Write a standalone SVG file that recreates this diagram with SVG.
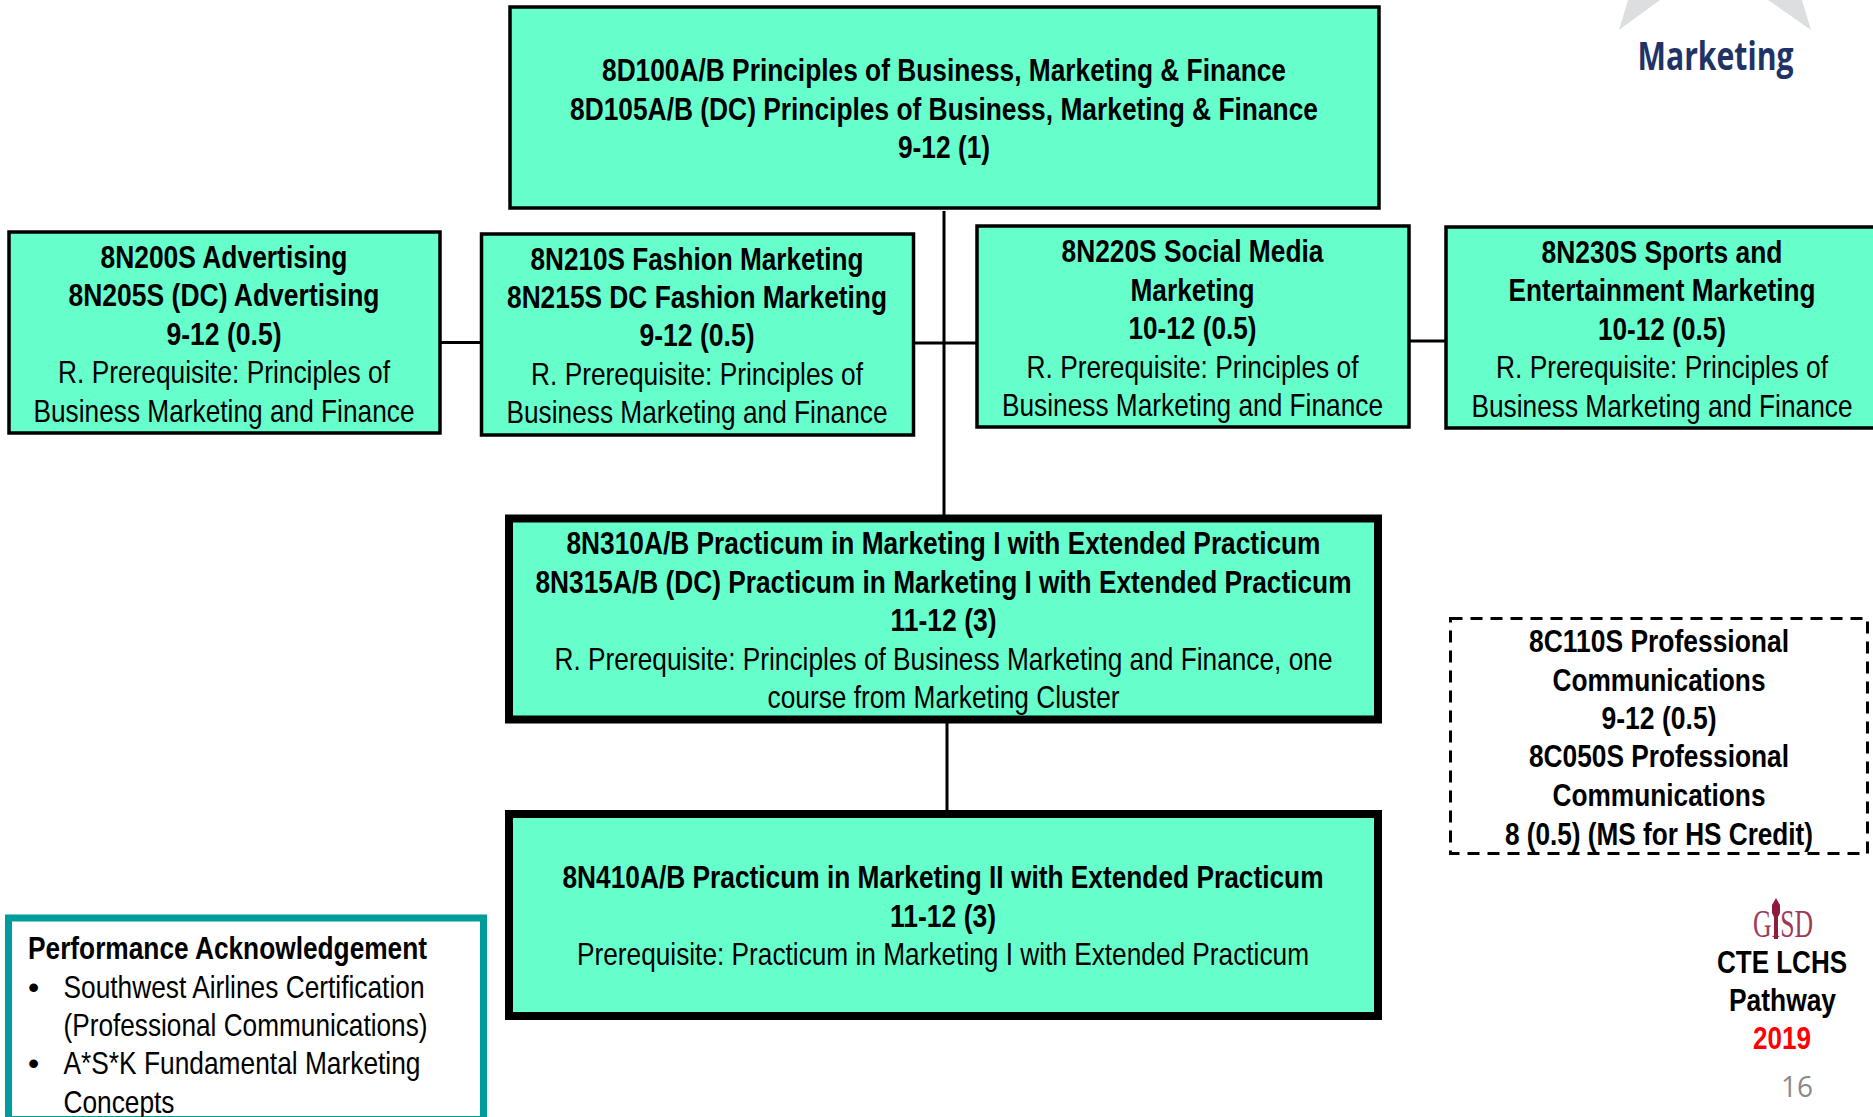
<svg xmlns="http://www.w3.org/2000/svg" width="1873" height="1117" viewBox="0 0 1873 1117">
<style>
text{font-family:"Liberation Sans",Arial,sans-serif;font-size:32px;fill:#000;text-anchor:middle}
.b{font-weight:700}
.l{text-anchor:start}
.n{fill:#66ffcc;stroke:#000;stroke-width:3.5}
.t{fill:#66ffcc;stroke:#000;stroke-width:8}
.c{stroke:#000;stroke-width:3;fill:none}
</style>
<rect width="1873" height="1117" fill="#fff"/>
<g id="connectors">
<path class="c" d="M944 211V515"/>
<path class="c" d="M441 342.500H480"/>
<path class="c" d="M915 343H976"/>
<path class="c" d="M1409 341H1445"/>
<path class="c" d="M947 723V811"/>
</g>
<g id="node-top">
<rect class="n" x="510" y="7" width="869" height="201"/>
<text class="b" x="944" y="81" textLength="684" lengthAdjust="spacingAndGlyphs">8D100A/B Principles of Business, Marketing &amp; Finance</text>
<text class="b" x="944" y="120" textLength="748" lengthAdjust="spacingAndGlyphs">8D105A/B (DC) Principles of Business, Marketing &amp; Finance</text>
<text class="b" x="944" y="158" textLength="92" lengthAdjust="spacingAndGlyphs">9-12 (1)</text>
</g>
<g id="node-8N200S">
<rect class="n" x="9" y="232" width="431" height="201"/>
<text class="b" x="224" y="268" textLength="247" lengthAdjust="spacingAndGlyphs">8N200S Advertising</text>
<text class="b" x="224" y="306" textLength="311" lengthAdjust="spacingAndGlyphs">8N205S (DC) Advertising</text>
<text class="b" x="224" y="345" textLength="115" lengthAdjust="spacingAndGlyphs">9-12 (0.5)</text>
<text x="224" y="383" textLength="332" lengthAdjust="spacingAndGlyphs">R. Prerequisite: Principles of</text>
<text x="224" y="422" textLength="381" lengthAdjust="spacingAndGlyphs">Business Marketing and Finance</text>
</g>
<g id="node-8N210S">
<rect class="n" x="481.500" y="234" width="432" height="201"/>
<text class="b" x="697" y="270" textLength="333" lengthAdjust="spacingAndGlyphs">8N210S Fashion Marketing</text>
<text class="b" x="697" y="308" textLength="380" lengthAdjust="spacingAndGlyphs">8N215S DC Fashion Marketing</text>
<text class="b" x="697" y="346" textLength="115" lengthAdjust="spacingAndGlyphs">9-12 (0.5)</text>
<text x="697" y="385" textLength="332" lengthAdjust="spacingAndGlyphs">R. Prerequisite: Principles of</text>
<text x="697" y="423" textLength="381" lengthAdjust="spacingAndGlyphs">Business Marketing and Finance</text>
</g>
<g id="node-8N220S">
<rect class="n" x="977" y="226" width="432" height="201"/>
<text class="b" x="1192.500" y="262" textLength="262" lengthAdjust="spacingAndGlyphs">8N220S Social Media</text>
<text class="b" x="1192.500" y="301" textLength="124" lengthAdjust="spacingAndGlyphs">Marketing</text>
<text class="b" x="1192.500" y="339" textLength="128" lengthAdjust="spacingAndGlyphs">10-12 (0.5)</text>
<text x="1192.500" y="378" textLength="332" lengthAdjust="spacingAndGlyphs">R. Prerequisite: Principles of</text>
<text x="1192.500" y="416" textLength="381" lengthAdjust="spacingAndGlyphs">Business Marketing and Finance</text>
</g>
<g id="node-8N230S">
<rect class="n" x="1446" y="227" width="432" height="201"/>
<text class="b" x="1662" y="263" textLength="241" lengthAdjust="spacingAndGlyphs">8N230S Sports and</text>
<text class="b" x="1662" y="301" textLength="307" lengthAdjust="spacingAndGlyphs">Entertainment Marketing</text>
<text class="b" x="1662" y="340" textLength="128" lengthAdjust="spacingAndGlyphs">10-12 (0.5)</text>
<text x="1662" y="378" textLength="332" lengthAdjust="spacingAndGlyphs">R. Prerequisite: Principles of</text>
<text x="1662" y="417" textLength="381" lengthAdjust="spacingAndGlyphs">Business Marketing and Finance</text>
</g>
<g id="node-8N310">
<rect class="t" x="509" y="518.500" width="869" height="201"/>
<text class="b" x="943.500" y="554" textLength="754" lengthAdjust="spacingAndGlyphs">8N310A/B Practicum in Marketing I with Extended Practicum</text>
<text class="b" x="943.500" y="593" textLength="816" lengthAdjust="spacingAndGlyphs">8N315A/B (DC) Practicum in Marketing I with Extended Practicum</text>
<text class="b" x="943.500" y="631" textLength="106" lengthAdjust="spacingAndGlyphs">11-12 (3)</text>
<text x="943.500" y="670" textLength="778" lengthAdjust="spacingAndGlyphs">R. Prerequisite: Principles of Business Marketing and Finance, one</text>
<text x="943.500" y="708" textLength="352" lengthAdjust="spacingAndGlyphs">course from Marketing Cluster</text>
</g>
<g id="node-8N410">
<rect class="t" x="509" y="814" width="869" height="202"/>
<text class="b" x="943" y="888" textLength="761" lengthAdjust="spacingAndGlyphs">8N410A/B Practicum in Marketing II with Extended Practicum</text>
<text class="b" x="943" y="927" textLength="106" lengthAdjust="spacingAndGlyphs">11-12 (3)</text>
<text x="943" y="965" textLength="732" lengthAdjust="spacingAndGlyphs">Prerequisite: Practicum in Marketing I with Extended Practicum</text>
</g>
<g id="node-8C110S">
<rect x="1450.500" y="618.500" width="417" height="235" fill="none" stroke="#000" stroke-width="3" stroke-dasharray="12 8"/>
<text class="b" x="1659" y="652" textLength="260" lengthAdjust="spacingAndGlyphs">8C110S Professional</text>
<text class="b" x="1659" y="691" textLength="213" lengthAdjust="spacingAndGlyphs">Communications</text>
<text class="b" x="1659" y="729" textLength="115" lengthAdjust="spacingAndGlyphs">9-12 (0.5)</text>
<text class="b" x="1659" y="767" textLength="260" lengthAdjust="spacingAndGlyphs">8C050S Professional</text>
<text class="b" x="1659" y="806" textLength="213" lengthAdjust="spacingAndGlyphs">Communications</text>
<text class="b" x="1659" y="845" textLength="308" lengthAdjust="spacingAndGlyphs">8 (0.5) (MS for HS Credit)</text>
</g>
<g id="performance">
<rect x="8.500" y="918" width="475" height="201.500" fill="#fff" stroke="#009c9c" stroke-width="7"/>
<text class="b l" x="28" y="959" textLength="399" lengthAdjust="spacingAndGlyphs">Performance Acknowledgement</text>
<text class="l" x="28" y="998">•</text>
<text class="l" x="63.500" y="998" textLength="361" lengthAdjust="spacingAndGlyphs">Southwest Airlines Certification</text>
<text class="l" x="63.500" y="1036" textLength="364" lengthAdjust="spacingAndGlyphs">(Professional Communications)</text>
<text class="l" x="28" y="1074">•</text>
<text class="l" x="63.500" y="1074" textLength="357" lengthAdjust="spacingAndGlyphs">A*S*K Fundamental Marketing</text>
<text class="l" x="63.500" y="1113" textLength="111" lengthAdjust="spacingAndGlyphs">Concepts</text>
</g>
<g id="marketing-logo">
<path fill="#dcdee0" d="M1628 0L1619 30L1660 0ZM1768 0L1811 30L1802 0Z"/>
<text x="1715.500" y="70" textLength="156" lengthAdjust="spacingAndGlyphs" style="font-family:'Open Sans',sans-serif;font-weight:700;font-size:40px;fill:#1f3366">Marketing</text>
</g>
<g id="pathway">
<text x="1783" y="937" textLength="60" lengthAdjust="spacingAndGlyphs" style="font-family:'Liberation Serif',serif;font-size:40px;fill:#a03a5a">GISD</text>
<path fill="#8e1c3e" d="M1776 898L1780 905V913L1778 917V939H1774V917L1772 913V905Z"/>
<text class="b" x="1782" y="973" textLength="130" lengthAdjust="spacingAndGlyphs">CTE LCHS</text>
<text class="b" x="1782.500" y="1011" textLength="107" lengthAdjust="spacingAndGlyphs">Pathway</text>
<text class="b" x="1782" y="1049" textLength="58" lengthAdjust="spacingAndGlyphs" style="fill:#f00">2019</text>
<text x="1797" y="1097" textLength="32" lengthAdjust="spacingAndGlyphs" style="font-family:'Open Sans',sans-serif;font-size:29px;fill:#8a8a8a">16</text>
</g>
</svg>
